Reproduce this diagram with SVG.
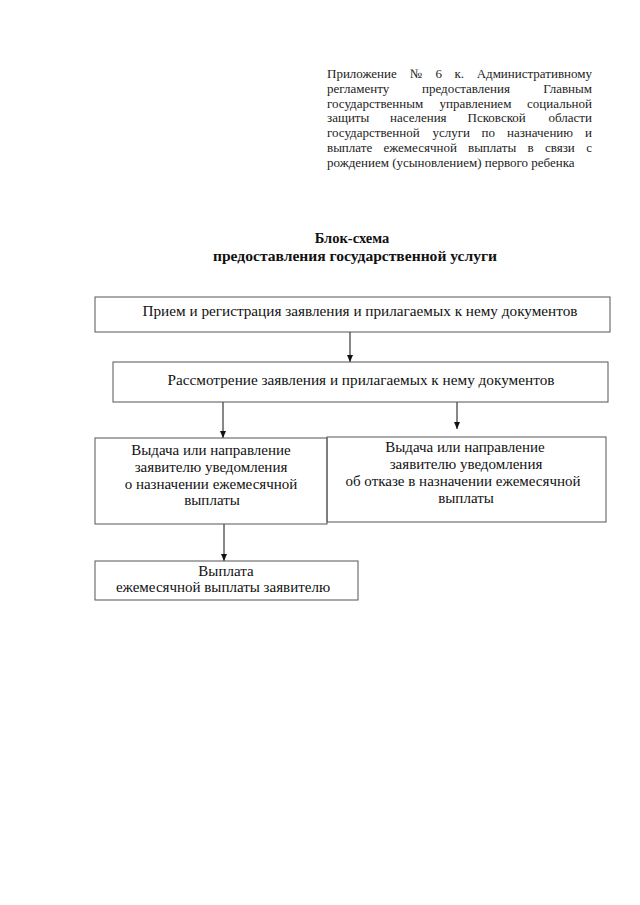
<svg xmlns="http://www.w3.org/2000/svg" width="640" height="905" viewBox="0 0 640 905">
<style>
.hdr{font-family:"Liberation Serif","Times New Roman",serif;font-size:13px;fill:#222}
.e{text-anchor:end}
.ttl{font-family:"Liberation Serif","Times New Roman",serif;font-size:14.5px;font-weight:bold;fill:#111;text-anchor:middle}
.t{font-family:"Liberation Serif","Times New Roman",serif;font-size:15px;fill:#111;text-anchor:middle}
.box{fill:none;stroke:#555;stroke-width:1}
.con{stroke:#111;stroke-width:1;fill:none}
</style>
<defs>
<marker id="ah" viewBox="0 0 8 8" refX="7" refY="4" markerWidth="8" markerHeight="8" orient="auto" markerUnits="userSpaceOnUse">
<path d="M0,1 L7,4 L0,7 z" fill="#111"/>
</marker>
</defs>
<rect width="640" height="905" fill="#fff"/>
<g id="header" class="hdr">
<text y="78"><tspan x="327">Приложение</tspan><tspan x="410">№</tspan><tspan x="435.5">6</tspan><tspan x="454.5">к.</tspan><tspan x="592" class="e">Административному</tspan></text>
<text y="93"><tspan x="327">регламенту</tspan><tspan x="422">предоставления</tspan><tspan x="592" class="e">Главным</tspan></text>
<text y="108"><tspan x="327">государственным</tspan><tspan x="439.5">управлением</tspan><tspan x="592" class="e">социальной</tspan></text>
<text y="122"><tspan x="327">защиты</tspan><tspan x="390">населения</tspan><tspan x="467.5">Псковской</tspan><tspan x="592" class="e">области</tspan></text>
<text y="137"><tspan x="327">государственной</tspan><tspan x="432.5">услуги</tspan><tspan x="481.5">по</tspan><tspan x="507">назначению</tspan><tspan x="592" class="e">и</tspan></text>
<text y="152"><tspan x="327">выплате</tspan><tspan x="383.5">ежемесячной</tspan><tspan x="468">выплаты</tspan><tspan x="527.5">в</tspan><tspan x="545">связи</tspan><tspan x="592" class="e">с</tspan></text>
<text y="167" x="327">рождением (усыновлением) первого ребенка</text>
</g>
<g id="title">
<text class="ttl" x="352" y="243">Блок-схема</text>
<text class="ttl" x="355" y="261" textLength="284" lengthAdjust="spacingAndGlyphs">предоставления государственной услуги</text>
</g>
<g id="connectors">
<line class="con" x1="350" y1="332" x2="350" y2="362" marker-end="url(#ah)"/>
<line class="con" x1="223" y1="402" x2="223" y2="438" marker-end="url(#ah)"/>
<line class="con" x1="457" y1="402" x2="457" y2="429" marker-end="url(#ah)"/>
<line class="con" x1="224" y1="524" x2="224" y2="561" marker-end="url(#ah)"/>
</g>
<g id="n1">
<rect class="box" x="95" y="297" width="515" height="35"/>
<text class="t" x="360" y="316" textLength="435" lengthAdjust="spacingAndGlyphs">Прием и регистрация заявления и прилагаемых к нему документов</text>
</g>
<g id="n2">
<rect class="box" x="113" y="362" width="495" height="40"/>
<text class="t" x="361" y="385" textLength="387" lengthAdjust="spacingAndGlyphs">Рассмотрение заявления и прилагаемых к нему документов</text>
</g>
<g id="n3">
<rect class="box" x="95" y="438" width="232" height="86"/>
<text class="t" x="211" y="455">Выдача или направление</text>
<text class="t" x="211" y="472">заявителю уведомления</text>
<text class="t" x="211" y="489">о назначении ежемесячной</text>
<text class="t" x="212" y="505">выплаты</text>
</g>
<g id="n4">
<rect class="box" x="327" y="437" width="279" height="85"/>
<text class="t" x="465" y="452">Выдача или направление</text>
<text class="t" x="466" y="469">заявителю уведомления</text>
<text class="t" x="463" y="486">об отказе в назначении ежемесячной</text>
<text class="t" x="466" y="503">выплаты</text>
</g>
<g id="n5">
<rect class="box" x="95" y="561" width="263" height="39"/>
<text class="t" x="226" y="576">Выплата</text>
<text class="t" x="223" y="592">ежемесячной выплаты заявителю</text>
</g>
</svg>
